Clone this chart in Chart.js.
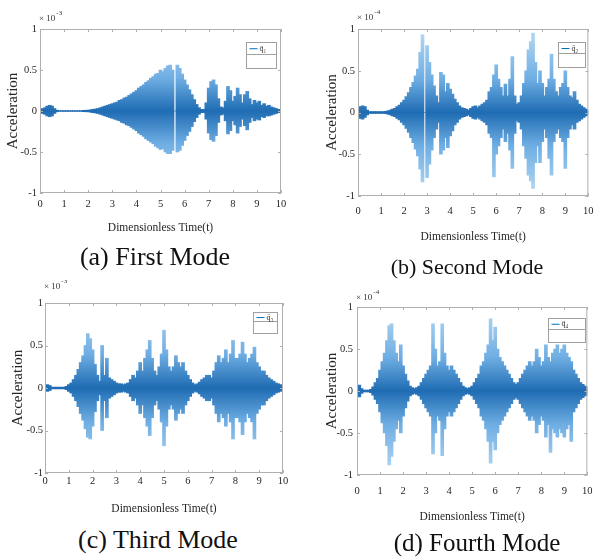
<!DOCTYPE html>
<html>
<head>
<meta charset="utf-8">
<script src="https://cdn.jsdelivr.net/npm/chart.js@4.4.1/dist/chart.umd.min.js"></script>
<style>
  body { margin: 0; background: #fff; }
  #page { position: relative; width: 603px; height: 557px; overflow: hidden; background: #fff; }
  canvas { position: absolute; }
  .cap { position: absolute; transform: translate(-50%, -50%); font-family: "Liberation Serif", "Times New Roman", serif; color: #111; white-space: nowrap; }
</style>
</head>
<body>
<div id="page">
  <canvas id="c1" width="300" height="245" style="left:0px;top:0px"></canvas>
  <canvas id="c2" width="303" height="250" style="left:300px;top:0px"></canvas>
  <canvas id="c3" width="300" height="245" style="left:0px;top:280px"></canvas>
  <canvas id="c4" width="303" height="250" style="left:300px;top:280px"></canvas>
  <div class="cap" style="left:155px;top:257px;font-size:26px">(a) First Mode</div>
  <div class="cap" style="left:467px;top:267px;font-size:22px">(b) Second Mode</div>
  <div class="cap" style="left:158px;top:540px;font-size:26px">(c) Third Mode</div>
  <div class="cap" style="left:477px;top:543px;font-size:25px">(d) Fourth Mode</div>
</div>
<script>
// sampling grid of dimensionless time, 0..10 every 0.1
const times = Array.from({length: 101}, (_, i) => i / 10);
const xTicks = [0, 1, 2, 3, 4, 5, 6, 7, 8, 9, 10];
const yTicks = [-1, -0.5, 0, 0.5, 1];

// envelope of each response (upper / lower), read per 0.1 of time
const hiA = [
  .02,.03,.04,.06,.07,.06,.03,.01,.005,.005,
  .005,.005,.005,.005,.005,.005,.005,.005,.008,.01,
  .01,.015,.02,.025,.03,.04,.05,.06,.07,.08,
  .09,.10,.11,.13,.14,.16,.17,.19,.21,.23,
  .25,.28,.30,.32,.35,.37,.40,.42,.45,.46,
  .50,.48,.52,.55,.56,.50,0,.56,.52,.45,
  .38,.32,.26,.20,.14,.08,.04,.02,.02,.10,
  .28,.36,.38,.32,.15,.05,.04,.12,.30,.25,
  .12,.18,.28,.20,.10,.20,.24,.15,.08,.13,
  .10,.12,.07,.09,.06,.07,.05,.04,.03,.02,
  .02];
const loA = [
  -.02,-.03,-.04,-.06,-.07,-.06,-.03,-.01,-.005,-.005,
  -.005,-.005,-.005,-.005,-.005,-.005,-.005,-.005,-.008,-.01,
  -.01,-.015,-.02,-.025,-.03,-.04,-.05,-.06,-.07,-.08,
  -.09,-.10,-.11,-.12,-.14,-.15,-.17,-.18,-.20,-.22,
  -.24,-.27,-.29,-.31,-.34,-.36,-.38,-.40,-.43,-.45,
  -.47,-.46,-.50,-.52,-.52,-.48,0,-.50,-.48,-.42,
  -.36,-.30,-.25,-.19,-.13,-.08,-.04,-.02,-.02,-.10,
  -.27,-.35,-.37,-.30,-.14,-.05,-.04,-.12,-.28,-.24,
  -.12,-.17,-.27,-.19,-.10,-.18,-.23,-.14,-.08,-.12,
  -.10,-.11,-.07,-.08,-.06,-.06,-.05,-.04,-.03,-.02,
  -.02];

const hiB = [
  .03,.07,.08,.07,.03,.01,.01,.01,.01,.01,
  .01,.01,.015,.02,.03,.04,.05,.07,.09,.12,
  .15,.19,.24,.30,.36,.44,.52,.72,.93,0,
  .80,.60,.45,.32,.20,.12,.48,.45,.25,.35,
  .28,.22,.16,.12,.08,.06,.05,.04,.03,.05,
  .07,.08,.06,.08,.10,.12,.15,.25,.30,.45,
  .57,.40,.30,.20,.34,.20,.40,.67,.20,.10,
  .12,.20,.35,.50,.75,.85,.95,.60,.35,.50,
  .35,.20,.30,.40,.70,.40,.25,.20,.30,.35,
  .50,.30,.20,.18,.25,.15,.10,.08,.06,.04,
  .02];
const loB = [
  -.03,-.07,-.08,-.06,-.03,-.01,-.01,-.01,-.01,-.01,
  -.01,-.01,-.015,-.02,-.03,-.04,-.05,-.07,-.09,-.12,
  -.15,-.19,-.24,-.30,-.36,-.44,-.52,-.68,-.83,0,
  -.78,-.62,-.45,-.30,-.20,-.12,-.50,-.45,-.30,-.42,
  -.28,-.22,-.15,-.12,-.08,-.06,-.05,-.04,-.03,-.05,
  -.07,-.08,-.06,-.08,-.10,-.12,-.15,-.25,-.30,-.77,
  -.50,-.40,-.30,-.20,-.35,-.25,-.45,-.67,-.25,-.10,
  -.12,-.20,-.40,-.55,-.75,-.82,-.91,-.60,-.40,-.60,
  -.35,-.20,-.30,-.55,-.75,-.35,-.25,-.20,-.30,-.35,
  -.67,-.30,-.20,-.15,-.20,-.12,-.10,-.08,-.06,-.04,
  -.02];

const hiC = [
  .02,.04,.03,.01,.01,.01,.01,.01,.01,.02,
  .04,.06,.10,.15,.22,.30,.38,.50,.64,.58,
  .45,.28,.15,.08,.50,.15,.35,.12,.10,.08,
  .06,.05,.05,.04,.05,.06,.10,.15,.12,.20,
  .30,.20,.35,.45,.56,.35,.20,.15,.25,.40,
  .68,.45,.25,.20,.25,.38,.30,.25,.30,.20,
  .15,.10,.06,.04,.05,.07,.10,.12,.15,.15,
  .12,.20,.30,.38,.30,.35,.45,.30,.40,.56,
  .35,.35,.40,.54,.40,.30,.35,.40,.48,.30,
  .25,.20,.20,.15,.12,.10,.08,.06,.05,.04,
  .03];
const loC = [
  -.02,-.04,-.03,-.01,-.01,-.01,-.01,-.01,-.01,-.02,
  -.04,-.06,-.10,-.15,-.22,-.30,-.38,-.48,-.58,-.60,
  -.45,-.28,-.15,-.08,-.50,-.15,-.35,-.12,-.10,-.08,
  -.06,-.05,-.05,-.04,-.05,-.06,-.10,-.15,-.12,-.20,
  -.30,-.20,-.35,-.45,-.56,-.35,-.20,-.15,-.25,-.40,
  -.68,-.45,-.25,-.20,-.25,-.38,-.30,-.25,-.30,-.20,
  -.15,-.10,-.06,-.04,-.05,-.07,-.10,-.12,-.15,-.15,
  -.12,-.20,-.30,-.40,-.30,-.35,-.45,-.30,-.40,-.60,
  -.35,-.35,-.40,-.55,-.40,-.30,-.35,-.40,-.60,-.30,
  -.25,-.20,-.20,-.15,-.12,-.10,-.08,-.06,-.05,-.04,
  -.03];

const hiD = [
  .05,.07,.03,.01,.01,.01,.02,.05,.10,.15,
  .25,.35,.45,.60,.78,.80,.60,.45,.35,.55,
  .30,.20,.12,.06,.04,.03,.04,.06,.10,.15,
  .20,.25,.30,.80,.50,.30,.35,.80,.45,.30,
  .25,.30,.25,.20,.15,.10,.06,.04,.03,.04,
  .06,.10,.15,.20,.30,.35,.45,.55,.86,.60,
  .76,.50,.40,.35,.30,.25,.20,.15,.10,.08,
  .10,.15,.20,.25,.30,.35,.30,.35,.50,.40,
  .30,.35,.55,.40,.35,.45,.50,.55,.45,.50,
  .55,.45,.40,.35,.25,.20,.15,.10,.08,.06,
  .05];
const loD = [
  -.05,-.07,-.03,-.01,-.01,-.01,-.02,-.05,-.10,-.15,
  -.25,-.38,-.50,-.65,-.88,-.78,-.60,-.45,-.35,-.50,
  -.30,-.20,-.12,-.06,-.04,-.03,-.04,-.06,-.10,-.15,
  -.20,-.25,-.30,-.75,-.50,-.30,-.35,-.77,-.45,-.30,
  -.25,-.30,-.25,-.20,-.15,-.10,-.06,-.04,-.03,-.04,
  -.06,-.10,-.15,-.20,-.30,-.35,-.45,-.60,-.86,-.60,
  -.70,-.50,-.40,-.35,-.30,-.25,-.20,-.15,-.10,-.08,
  -.10,-.15,-.20,-.25,-.30,-.35,-.30,-.35,-.50,-.40,
  -.30,-.35,-.55,-.40,-.73,-.45,-.50,-.55,-.45,-.50,
  -.55,-.45,-.40,-.60,-.25,-.20,-.15,-.10,-.08,-.06,
  -.05];

Chart.defaults.font.family = '"Liberation Serif", "Times New Roman", serif';
Chart.defaults.color = '#262626';

function signalFill(chart) {
  const a = chart.chartArea;
  if (!a) return '#3d8fd1';
  if (!chart._fill) {
    const g = chart.ctx.createLinearGradient(0, a.top, 0, a.bottom);
    g.addColorStop(0, '#b8daf3');
    g.addColorStop(0.3, '#6faee3');
    g.addColorStop(0.5, '#1f6cb3');
    g.addColorStop(0.7, '#6faee3');
    g.addColorStop(1, '#b8daf3');
    chart._fill = g;
  }
  return chart._fill;
}

// matlab-like box, inner ticks, exponent and legend
const framePlugin = {
  id: 'frame',
  afterDatasetsDraw(chart, args, opts) {
    const {ctx, chartArea: a, scales: {x, y}} = chart;
    ctx.save();
    ctx.strokeStyle = '#b0b0b0';
    ctx.lineWidth = 1;
    ctx.strokeRect(a.left + 0.5, a.top + 0.5, a.width - 1, a.height - 1);
    ctx.beginPath();
    xTicks.forEach(v => {
      const px = Math.round(x.getPixelForValue(v)) + 0.5;
      ctx.moveTo(px, a.top); ctx.lineTo(px, a.top + 3);
      ctx.moveTo(px, a.bottom); ctx.lineTo(px, a.bottom - 3);
    });
    yTicks.forEach(v => {
      const py = Math.round(y.getPixelForValue(v)) + 0.5;
      ctx.moveTo(a.left, py); ctx.lineTo(a.left + 3, py);
      ctx.moveTo(a.right, py); ctx.lineTo(a.right - 3, py);
    });
    ctx.stroke();

    ctx.fillStyle = '#333';
    ctx.textBaseline = 'middle';
    ctx.font = '9px "Liberation Serif"';
    ctx.fillText('\u00d7 10', a.left - 1, a.top - opts.expDy);
    const w = ctx.measureText('\u00d7 10').width;
    ctx.font = '7px "Liberation Serif"';
    ctx.fillText(opts.exp, a.left + w, a.top - opts.expDy - 6);

    const lg = opts.legend;
    const bx = Math.round(a.right - lg.r - lg.w) + 0.5, by = Math.round(a.top + lg.t) + 0.5;
    ctx.fillStyle = '#fff';
    ctx.fillRect(bx, by, lg.w, lg.h);
    ctx.strokeStyle = '#a0a0a0';
    ctx.strokeRect(bx, by, lg.w, lg.h);
    ctx.beginPath();
    ctx.moveTo(bx, by + Math.round(lg.h * 0.45));
    ctx.lineTo(bx + lg.w, by + Math.round(lg.h * 0.45));
    ctx.stroke();
    const ry = by + lg.h * 0.24;
    ctx.strokeStyle = '#0072bd';
    ctx.beginPath();
    ctx.moveTo(bx + 3, ry); ctx.lineTo(bx + 11, ry);
    ctx.stroke();
    ctx.fillStyle = '#333';
    ctx.font = '8px "Liberation Serif"';
    ctx.fillText(opts.label, bx + 13, ry);
    ctx.restore();
  }
};

function makePanel(id, hi, lo, g) {
  new Chart(document.getElementById(id), {
    type: 'bar',
    data: {
      datasets: [{
        label: g.label,
        data: times.map((t, i) => ({x: t, y: [lo[i], hi[i]]})),
        backgroundColor: c => signalFill(c.chart),
        borderWidth: 0,
        barThickness: 3
      }]
    },
    options: {
      responsive: false,
      animation: false,
      devicePixelRatio: 1,
      layout: {padding: {top: g.T - g.top, right: g.left + g.w - g.R, left: 0, bottom: 0}},
      plugins: {
        legend: {display: false},
        tooltip: {enabled: false},
        frame: {exp: g.exp, expDy: g.expDy, label: g.label, legend: g.legend}
      },
      scales: {
        x: {
          type: 'linear', min: 0, max: 10, offset: false,
          grid: {display: false, drawTicks: false},
          border: {display: false},
          afterBuildTicks: s => { s.ticks = xTicks.map(v => ({value: v})); },
          afterFit: s => { s.height = g.top + g.h - g.B; },
          ticks: {font: {size: 10.5}, padding: g.xTickPad, maxRotation: 0, autoSkip: false,
                  callback: v => String(v)},
          title: {display: true, text: 'Dimensionless Time(t)', font: {size: 11.5},
                  padding: {top: 0, bottom: g.xTitlePad}}
        },
        y: {
          min: -1, max: 1,
          grid: {display: false, drawTicks: false},
          border: {display: false},
          afterBuildTicks: s => { s.ticks = yTicks.map(v => ({value: v})); },
          afterFit: s => { s.width = g.L - g.left; },
          ticks: {font: {size: 10.5}, padding: g.yTickPad, callback: v => String(v)},
          title: {display: true, text: 'Acceleration', font: {size: 15},
                  padding: {top: g.yTitlePad, bottom: 0}}
        }
      }
    },
    plugins: [framePlugin]
  });
}

makePanel('c1', hiA, loA, {left: 0, top: 0, w: 300, h: 245, L: 40, R: 281, T: 29, B: 193,
  xTickPad: 5.4, xTitlePad: 10.4, yTickPad: 3, yTitlePad: 4, exp: '-3', expDy: 10,
  label: 'q\u0308\u2081', legend: {r: 5, t: 13, w: 30, h: 26}});
makePanel('c2', hiB, loB, {left: 300, top: 0, w: 303, h: 250, L: 358, R: 598, T: 29, B: 196,
  xTickPad: 9.4, xTitlePad: 6.4, yTickPad: 3, yTitlePad: 23, exp: '-4', expDy: 11,
  label: 'q\u0308\u2082', legend: {r: 3, t: 13, w: 27, h: 25}});
makePanel('c3', hiC, loC, {left: 0, top: 280, w: 300, h: 245, L: 45, R: 283, T: 303, B: 473,
  xTickPad: 2.4, xTitlePad: 9.4, yTickPad: 2, yTitlePad: 9, exp: '-3', expDy: 16,
  label: 'q\u0308\u2083', legend: {r: 6, t: 9, w: 24, h: 21}});
makePanel('c4', hiD, loD, {left: 300, top: 280, w: 303, h: 250, L: 357, R: 597, T: 307, B: 475,
  xTickPad: 10.4, xTitlePad: 6.4, yTickPad: 4, yTitlePad: 23, exp: '-4', expDy: 9,
  label: 'q\u0308\u2084', legend: {r: 2, t: 11, w: 37, h: 24}});
</script>
</body>
</html>
